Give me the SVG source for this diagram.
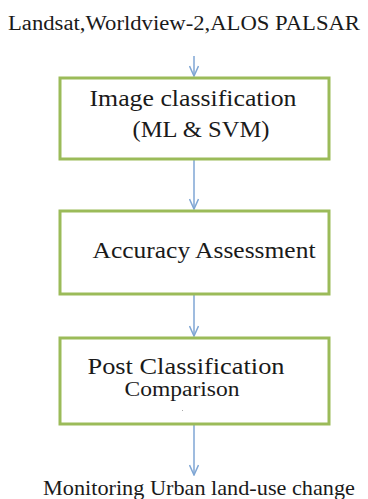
<svg xmlns="http://www.w3.org/2000/svg" width="368" height="499" viewBox="0 0 368 499">
<style>
.box{fill:#fff;stroke:#9BBB59;stroke-width:3}
.t{font-family:"Liberation Serif","Times New Roman",serif;fill:#1a1a1a}
.c{stroke:#7FA6D4;stroke-width:1.5;fill:none}
</style>
<defs>
<marker id="ah" markerWidth="12" markerHeight="10" refX="11" refY="5" orient="auto" markerUnits="userSpaceOnUse" viewBox="0 0 12 10">
<path d="M1,0.5 L11,5 L1,9.5" fill="none" stroke="#7FA6D4" stroke-width="1.5"/>
</marker>
</defs>
<rect width="368" height="499" fill="#fff"/>
<text class="t" x="184" y="30" font-size="20" text-anchor="middle" textLength="352" lengthAdjust="spacingAndGlyphs">Landsat,Worldview-2,ALOS PALSAR</text>
<g id="connectors">
<line class="c" x1="194" y1="56" x2="194" y2="76" marker-end="url(#ah)"/>
<line class="c" x1="194" y1="159" x2="194" y2="209" marker-end="url(#ah)"/>
<line class="c" x1="194" y1="294" x2="194" y2="336" marker-end="url(#ah)"/>
<line class="c" x1="194" y1="424" x2="194" y2="475" marker-end="url(#ah)"/>
</g>
<g id="n1">
<rect class="box" x="60" y="78" width="269" height="81"/>
<text class="t" x="193" y="106" font-size="22.5" text-anchor="middle" textLength="207" lengthAdjust="spacingAndGlyphs">Image classification</text>
<text class="t" x="201" y="137" font-size="22.5" text-anchor="middle" textLength="137" lengthAdjust="spacingAndGlyphs">(ML &amp; SVM)</text>
</g>
<g id="n2">
<rect class="box" x="60" y="211" width="269" height="83"/>
<text class="t" x="204" y="258" font-size="22.5" text-anchor="middle" textLength="223" lengthAdjust="spacingAndGlyphs">Accuracy Assessment</text>
</g>
<g id="n3">
<rect class="box" x="60" y="338" width="269" height="86"/>
<text class="t" x="186" y="374" font-size="22.5" text-anchor="middle" textLength="197" lengthAdjust="spacingAndGlyphs">Post Classification</text>
<text class="t" x="182" y="396" font-size="20" text-anchor="middle" textLength="115" lengthAdjust="spacingAndGlyphs">Comparison</text>
<rect x="182" y="410" width="1" height="1" fill="#aaa"/>
</g>
<text class="t" x="199" y="495" font-size="21" text-anchor="middle" textLength="312" lengthAdjust="spacingAndGlyphs">Monitoring Urban land-use change</text>
</svg>
